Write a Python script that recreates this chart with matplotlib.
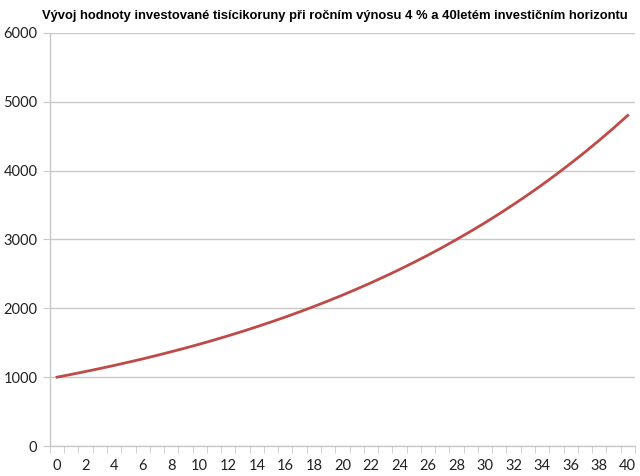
import matplotlib
matplotlib.use('Agg')
import matplotlib.pyplot as plt
import numpy as np

years = list(range(0, 41))
values = [1000, 1040, 1082, 1125, 1170, 1217, 1265, 1316, 1369, 1423,
          1480, 1539, 1601, 1665, 1732, 1801, 1873, 1948, 2026, 2107,
          2191, 2279, 2370, 2465, 2563, 2666, 2772, 2883, 2999, 3119,
          3243, 3373, 3508, 3648, 3794, 3946, 4104, 4268, 4439, 4616, 4801]
x_labels = [str(y) for y in years[::2]]
title = 'Vývoj hodnoty investované tisícikoruny při ročním výnosu 4 % a 40letém investičním horizontu'

grid_col = '#c8c8c8'

fig = plt.figure(figsize=(6.4, 4.76), dpi=100)
ax = fig.add_axes([0.078, 0.063, 0.914, 0.868])

ax.plot(years, values, color='#be4b48', linewidth=2.0)

ax.set_xlim(-0.5, 40.5)
ax.set_ylim(0, 6000)
ax.set_yticks(range(0, 6001, 1000))
ax.set_xticks(years[::2])
ax.set_xticklabels(x_labels)
ax.set_xticks(np.arange(-0.5, 41, 1), minor=True)
ax.yaxis.grid(True, color=grid_col, linewidth=1.0)
ax.set_axisbelow(True)

for s in ['top', 'right']:
    ax.spines[s].set_visible(False)
for s in ['left', 'bottom']:
    ax.spines[s].set_color(grid_col)
    ax.spines[s].set_linewidth(1.0)

ax.tick_params(axis='y', length=5, color=grid_col, labelsize=10.5, pad=4, labelcolor='#222222')
ax.tick_params(axis='x', which='major', length=0, labelsize=10.5, pad=9, labelcolor='#222222')
ax.tick_params(axis='x', which='minor', length=5, color=grid_col)
for lab in ax.get_xticklabels() + ax.get_yticklabels():
    lab.set_family(['Lato', 'DejaVu Sans'])

t = fig.text(0.523, 0.967, title, ha='center', va='center', fontsize=9.35, fontweight='bold',
             family=['Liberation Sans', 'DejaVu Sans'])

fig.savefig('out.png', dpi=100)
